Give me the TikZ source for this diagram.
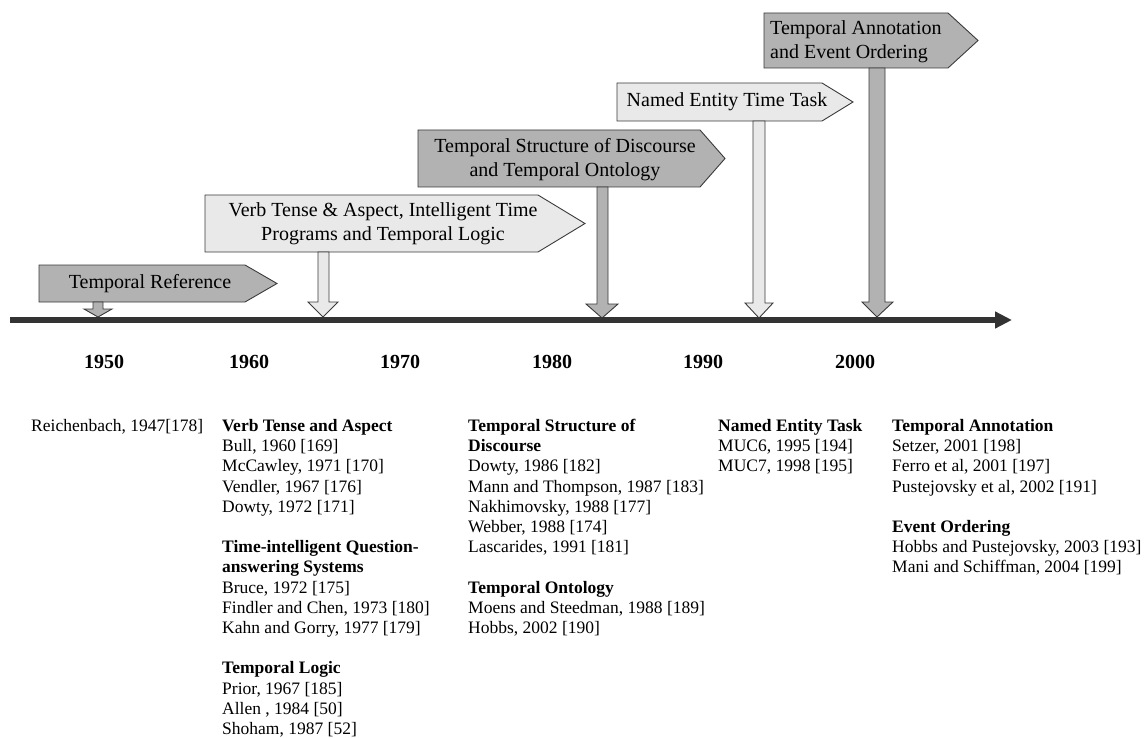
\documentclass[tikz,border=0pt]{standalone}
\usepackage{fontspec}
\setmainfont{Liberation Serif}
\usetikzlibrary{arrows.meta}
\definecolor{darkfill}{HTML}{B2B2B2}
\definecolor{lightfill}{HTML}{E9E9E9}
\definecolor{linecol}{HTML}{3A3A3A}
\definecolor{axiscol}{HTML}{333333}
\begin{document}
\begin{tikzpicture}[x=1pt,y=-1pt,
  bannerdark/.style={draw=linecol, fill=darkfill, line width=0.9pt, line join=miter},
  bannerlight/.style={draw=linecol, fill=lightfill, line width=0.9pt, line join=miter},
  btext/.style={font=\fontsize{20}{24}\selectfont, align=center, inner sep=0pt},
  reftext/.style={font=\fontsize{17.5}{20.2}\selectfont, anchor=base west, inner sep=0pt},
  yeartext/.style={font=\fontsize{20}{24}\selectfont\bfseries, anchor=base, inner sep=0pt}]
\useasboundingbox (0,0) rectangle (1145,738);

% banners
\draw[bannerdark] (39,265) -- (245,265) -- (277,283.5) -- (245,302) -- (39,302) -- cycle;
\node[btext] (b1) at (150,283.5) {Temporal Reference};
\draw[bannerlight] (205,195) -- (538,195) -- (585,223.5) -- (538,252) -- (205,252) -- cycle;
\node[btext] (b2) at (383,224) {Verb Tense \& Aspect, Intelligent Time\\Programs and Temporal Logic};
\draw[bannerdark] (418,130) -- (700,130) -- (725,158.5) -- (700,187) -- (418,187) -- cycle;
\node[btext] (b3) at (565,159.5) {Temporal Structure of Discourse\\and Temporal Ontology};
\draw[bannerlight] (617,83) -- (822,83) -- (853,102) -- (822,121) -- (617,121) -- cycle;
\node[btext] (b4) at (727,102) {Named Entity Time Task};
\draw[bannerdark] (764,13) -- (948,13) -- (978,40.5) -- (948,68) -- (764,68) -- cycle;
\node[btext, align=left, anchor=west] (b5) at (770,41.5) {Temporal Annotation\\and Event Ordering};

% down arrows
\draw[bannerdark] (93,302) -- (103,302) -- (103,309) -- (112,309) -- (98,317) -- (84,309) -- (93,309) -- cycle;
\draw[bannerlight] (318,252) -- (329,252) -- (329,302) -- (338,302) -- (323,317) -- (308,302) -- (318,302) -- cycle;
\draw[bannerdark] (597,187) -- (608,187) -- (608,304) -- (618,304) -- (602,318) -- (586,304) -- (597,304) -- cycle;
\draw[bannerlight] (753,121) -- (765,121) -- (765,303) -- (773,303) -- (759,318) -- (745,303) -- (753,303) -- cycle;
\draw[bannerdark] (869,68) -- (885,68) -- (885,302) -- (893,302) -- (877,317) -- (862,302) -- (869,302) -- cycle;

% axis
\coordinate (axL) at (10,320);
\coordinate (axR) at (1012,320);
\draw[axiscol, line width=5.5pt, -{Triangle[length=17pt,width=16pt]}] (axL) -- (axR);

% years
\node[yeartext] (y1950) at (104,368) {1950};
\node[yeartext] (y1960) at (249,368) {1960};
\node[yeartext] (y1970) at (400,368) {1970};
\node[yeartext] (y1980) at (552,368) {1980};
\node[yeartext] (y1990) at (703,368) {1990};
\node[yeartext] (y2000) at (855,368) {2000};

% reference columns
\node[reftext] (c1-1) at (31,431.5) {Reichenbach, 1947[178]};

\foreach \t [count=\i from 0] in {\textbf{Verb Tense and Aspect}, {Bull, 1960 [169]}, {McCawley, 1971 [170]}, {Vendler, 1967 [176]}, {Dowty, 1972 [171]}, {}, \textbf{Time-intelligent Question-}, \textbf{answering Systems}, {Bruce, 1972 [175]}, {Findler and Chen, 1973 [180]}, {Kahn and Gorry, 1977 [179]}, {}, \textbf{Temporal Logic}, {Prior, 1967 [185]}, {Allen , 1984 [50]}, {Shoham, 1987 [52]}}
  \node[reftext] (c2-\i) at (222,431.5+\i*20.2) {\t};

\foreach \t [count=\i from 0] in {\textbf{Temporal Structure of}, \textbf{Discourse}, {Dowty, 1986 [182]}, {Mann and Thompson, 1987 [183]}, {Nakhimovsky, 1988 [177]}, {Webber, 1988 [174]}, {Lascarides, 1991 [181]}, {}, \textbf{Temporal Ontology}, {Moens and Steedman, 1988 [189]}, {Hobbs, 2002 [190]}}
  \node[reftext] (c3-\i) at (468,431.5+\i*20.2) {\t};

\foreach \t [count=\i from 0] in {\textbf{Named Entity Task}, {MUC6, 1995 [194]}, {MUC7, 1998 [195]}}
  \node[reftext] (c4-\i) at (718,431.5+\i*20.2) {\t};

\foreach \t [count=\i from 0] in {\textbf{Temporal Annotation}, {Setzer, 2001 [198]}, {Ferro et al, 2001 [197]}, {Pustejovsky et al, 2002 [191]}, {}, \textbf{Event Ordering}, {Hobbs and Pustejovsky, 2003 [193]}, {Mani and Schiffman, 2004 [199]}}
  \node[reftext] (c5-\i) at (892,431.5+\i*20.2) {\t};
\end{tikzpicture}
\end{document}
